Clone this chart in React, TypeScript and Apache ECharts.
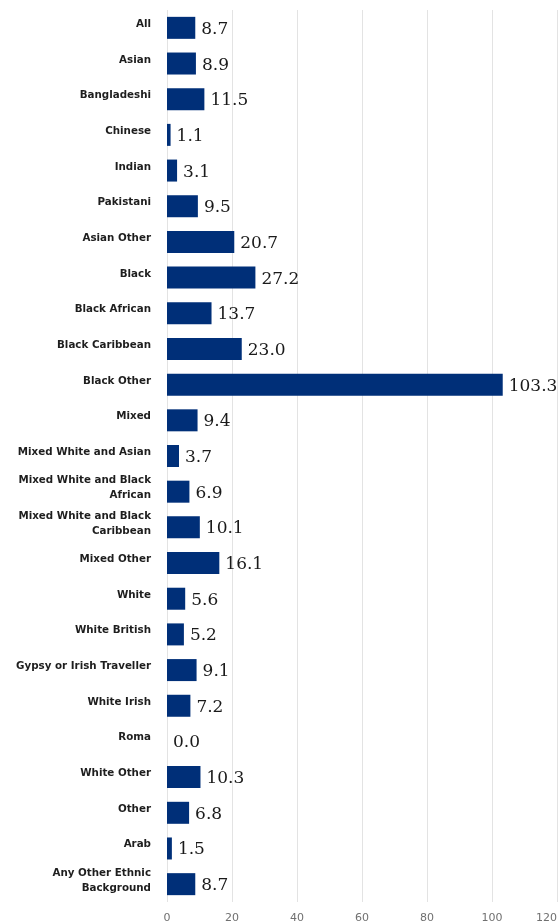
import React, { useEffect, useRef } from "react";
import * as echarts from "echarts";

const categories = [
  "All",
  "Asian",
  "Bangladeshi",
  "Chinese",
  "Indian",
  "Pakistani",
  "Asian Other",
  "Black",
  "Black African",
  "Black Caribbean",
  "Black Other",
  "Mixed",
  "Mixed White and Asian",
  "Mixed White and Black African",
  "Mixed White and Black Caribbean",
  "Mixed Other",
  "White",
  "White British",
  "Gypsy or Irish Traveller",
  "White Irish",
  "Roma",
  "White Other",
  "Other",
  "Arab",
  "Any Other Ethnic Background",
];

const values = [
  8.7, 8.9, 11.5, 1.1, 3.1, 9.5, 20.7, 27.2, 13.7, 23.0, 103.3, 9.4, 3.7, 6.9,
  10.1, 16.1, 5.6, 5.2, 9.1, 7.2, 0.0, 10.3, 6.8, 1.5, 8.7,
];

const xTicks = { min: 0, max: 120, interval: 20 };

const LABEL_SIZE = 10.3;
const LABEL_FONT = "bold " + LABEL_SIZE + "px 'DejaVu Sans'";
const LABEL_MAX = 142;

let ctx: CanvasRenderingContext2D | null = null;
function measure(t: string): number {
  if (!ctx) {
    ctx = document.createElement("canvas").getContext("2d");
  }
  if (!ctx) return t.length * 6;
  ctx.font = LABEL_FONT;
  return ctx.measureText(t).width;
}

function wrap(text: string): string[] {
  const words = text.split(" ");
  const lines: string[] = [];
  let cur = "";
  for (const w of words) {
    const cand = cur ? cur + " " + w : w;
    if (cur && measure(cand) > LABEL_MAX) {
      lines.push(cur);
      cur = w;
    } else {
      cur = cand;
    }
  }
  if (cur) lines.push(cur);
  return lines;
}

export default function App() {
  const ref = useRef<HTMLDivElement>(null);
  useEffect(() => {
    if (!ref.current) return;
    const chart = echarts.init(ref.current, null, { renderer: "svg" });
    const txt = {
      color: "#1e1e1e",
      fontSize: LABEL_SIZE,
      fontWeight: "bold",
      fontFamily: "DejaVu Sans",
      lineHeight: 15,
      align: "right",
    };
    chart.setOption({
      animation: false,
      grid: { left: 167, right: 1, top: 10, bottom: 22, containLabel: false },
      xAxis: {
        type: "value",
        min: xTicks.min,
        max: xTicks.max,
        interval: xTicks.interval,
        axisLine: { show: false },
        axisTick: { show: false },
        splitLine: { show: true, lineStyle: { color: "#e3e3e3", width: 1 } },
        axisLabel: {
          color: "#707070",
          fontSize: 11,
          fontFamily: "DejaVu Sans",
          margin: 10,
          alignMaxLabel: "right",
        },
      },
      yAxis: {
        type: "category",
        data: categories,
        inverse: true,
        axisLine: { show: false },
        axisTick: { show: false },
        axisLabel: {
          margin: 16,
          formatter: (v: string) =>
            wrap(v)
              .map((l) => "{t|" + l + "}")
              .join("\n") + "\n{s|}",
          rich: {
            t: txt,
            s: { fontSize: 1, lineHeight: 10 },
          },
        },
      },
      series: [
        {
          type: "bar",
          data: values,
          barWidth: 22,
          itemStyle: { color: "#002f78" },
          label: {
            show: true,
            position: "right",
            distance: 6,
            color: "#1a1a1a",
            fontSize: 17,
            fontFamily: "DejaVu Serif",
            formatter: (p: any) => Number(p.value).toFixed(1),
          },
        },
      ],
    });
    return () => chart.dispose();
  }, []);
  return (
    <div
      ref={ref}
      style={{ position: "fixed", left: 0, top: 0, width: 560, height: 924 }}
    />
  );
}
